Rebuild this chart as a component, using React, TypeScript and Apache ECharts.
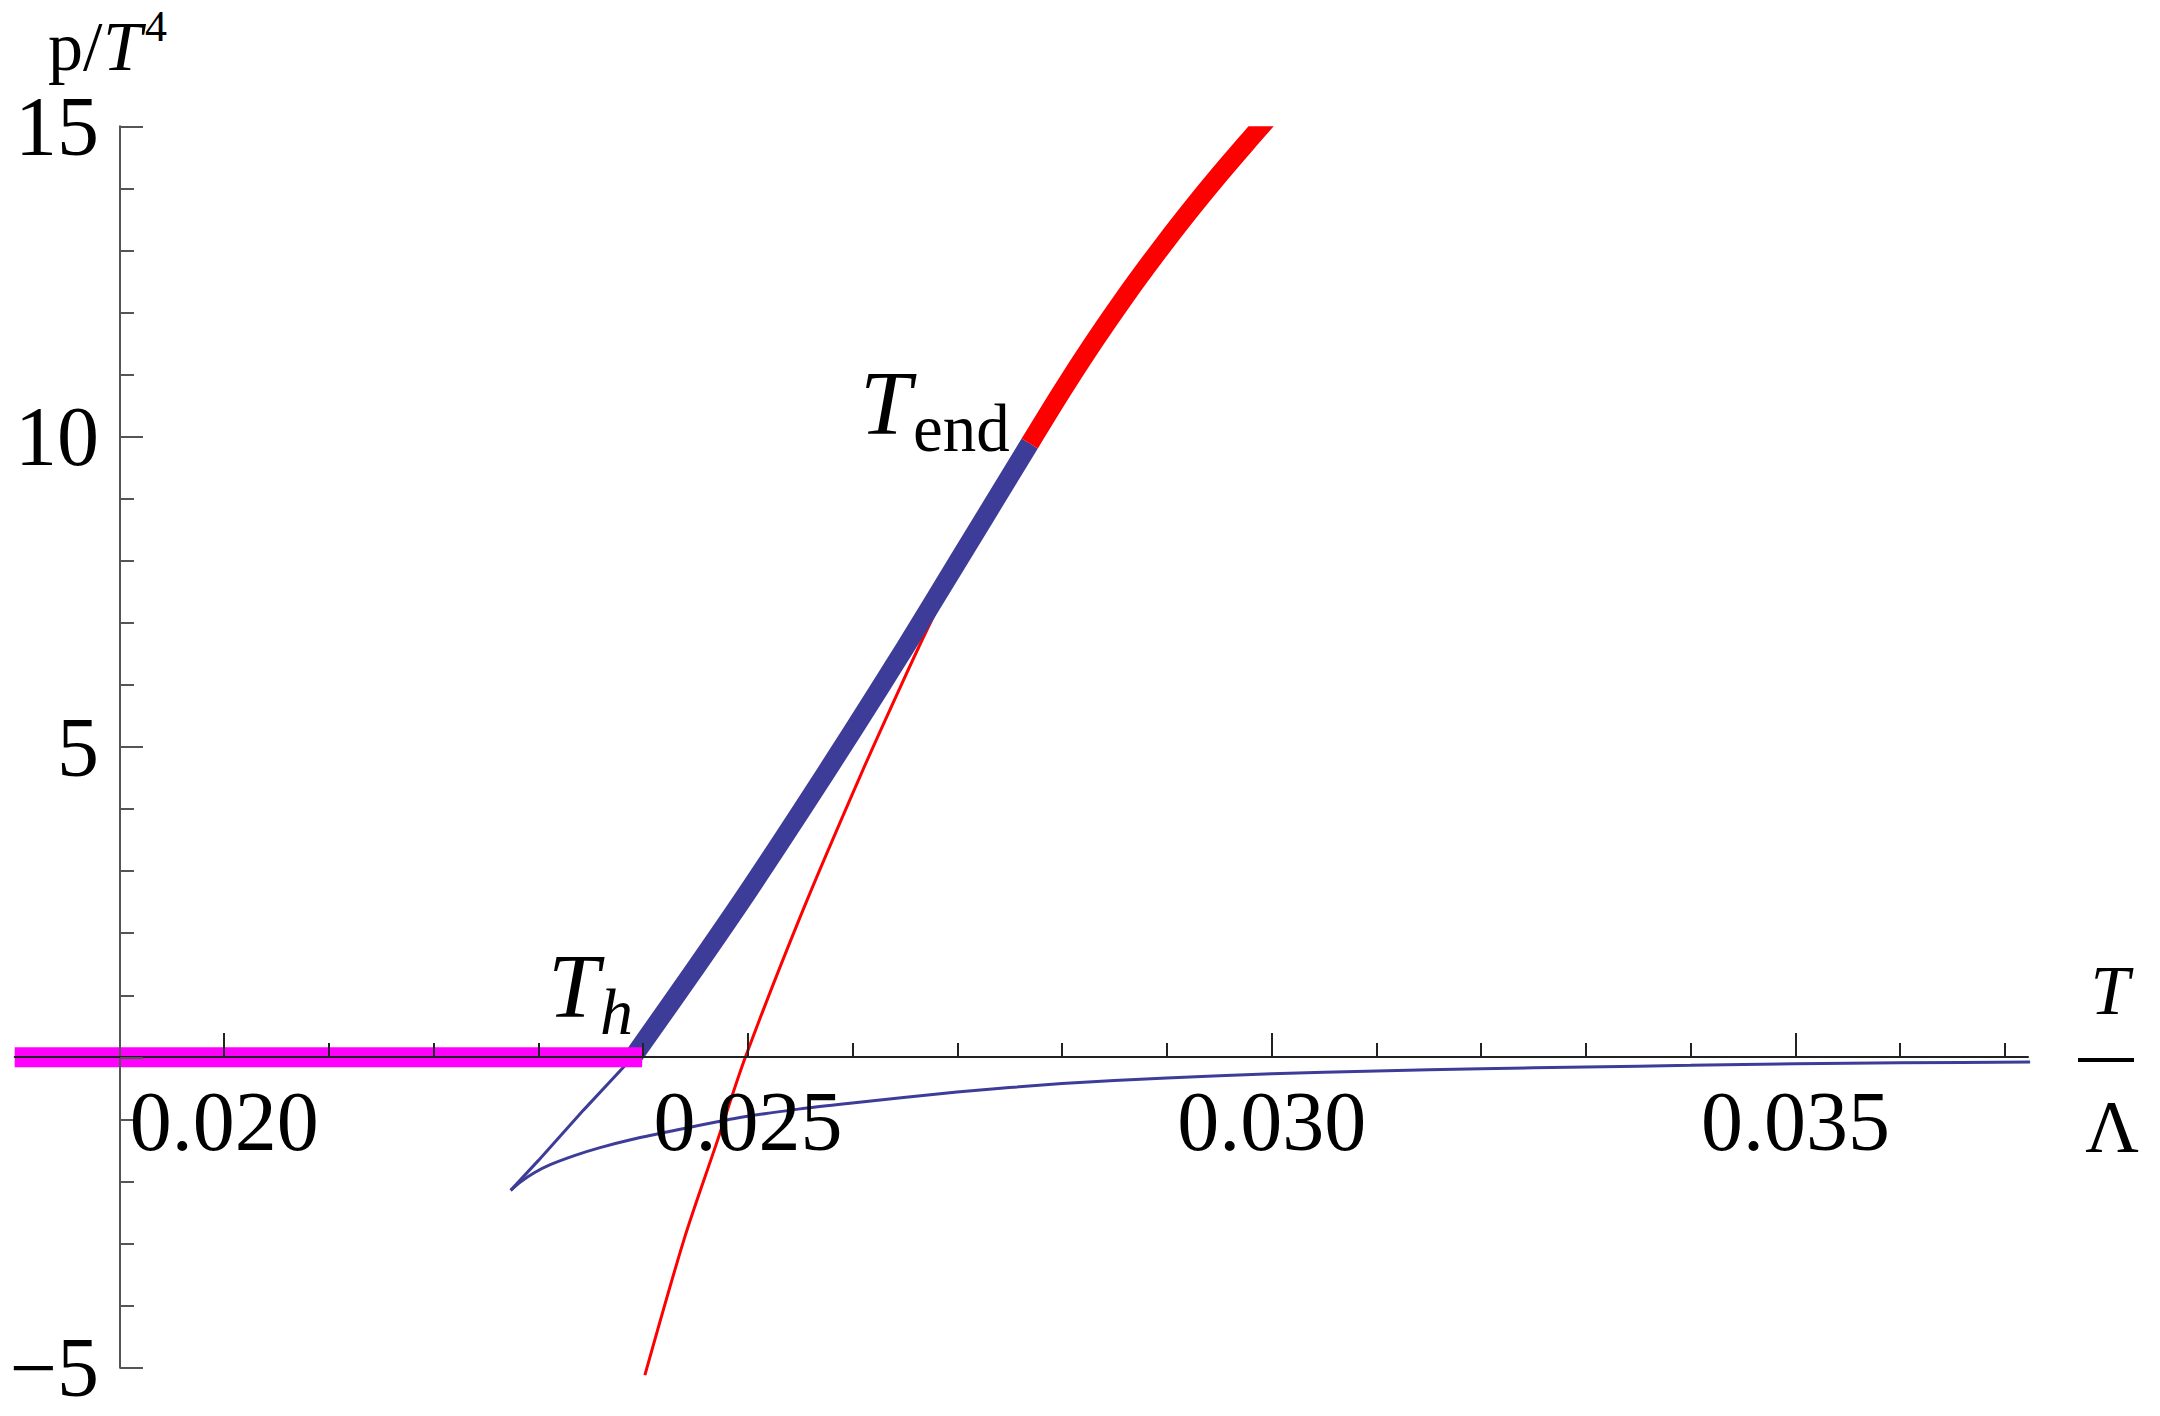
import React, { useEffect, useRef } from "react";
import * as echarts from "echarts";

// T/Λ values and p/T^4 values
const hadronT = [0.018, 0.02399];
const hadronP = [0, 0];

const blueThickT = [0.0239, 0.0245, 0.025, 0.0255, 0.026, 0.0265, 0.027, 0.02769];
const blueThickP = [0, 1.44, 2.67, 3.95, 5.26, 6.6, 7.98, 9.89];

const redThickT = [0.02769, 0.028, 0.0283, 0.0286, 0.0289, 0.0292, 0.0295, 0.0298, 0.0301];
const redThickP = [9.89, 10.74, 11.52, 12.255, 12.945, 13.6, 14.22, 14.81, 15.39];

const redThinT = [0.024016, 0.024396, 0.024699, 0.024975, 0.025527, 0.026079, 0.02645, 0.026738, 0.0271, 0.02769];
const redThinP = [-5.12, -2.9, -1.39, 0.0, 2.38, 4.56, 5.95, 6.99, 8.2, 9.89];

const blueUpperT = [0.0239, 0.02343, 0.023, 0.022735];
const blueUpperP = [0, -0.85, -1.66, -2.143];

const blueLowerT = [
  0.022735, 0.022824, 0.02296, 0.023113, 0.02335, 0.023588, 0.0239, 0.024224, 0.02486, 0.025497, 0.025974,
  0.026996, 0.027998, 0.028998, 0.03, 0.031, 0.032, 0.033, 0.034, 0.035, 0.036, 0.03724,
];
const blueLowerP = [
  -2.143, -2.014, -1.86, -1.73, -1.58, -1.455, -1.32, -1.204, -0.988, -0.83, -0.74, -0.56, -0.42, -0.333,
  -0.263, -0.22, -0.183, -0.156, -0.129, -0.102, -0.088, -0.076,
];

const xMajorTicks = [0.02, 0.025, 0.03, 0.035];
const xMinorTicks = [
  0.021, 0.022, 0.023, 0.024, 0.026, 0.027, 0.028, 0.029, 0.031, 0.032, 0.033, 0.034, 0.036, 0.037,
];
const yMajorTicks = [-5, 0, 5, 10, 15];
const yLabelValues = [-5, 5, 10, 15];
const yMinorTicks = [-4, -3, -2, -1, 1, 2, 3, 4, 6, 7, 8, 9, 11, 12, 13, 14];

const zip = (xs: number[], ys: number[]) => xs.map((x, i) => [x, ys[i]]);

const SERIF = '"Liberation Serif", "Times New Roman", serif';
const BLUE = "#3d3d99";

export default function App() {
  const ref = useRef<HTMLDivElement>(null);

  useEffect(() => {
    const chart = echarts.init(ref.current!, null, { renderer: "svg" });
    const xMin = 0.018;
    const xMax = 0.03722;
    const yMin = -5;
    const yMax = 15;
    const gLeft = 14.7;
    const gRight = 132;
    const gTop = 126.3;
    const gBottom = 48.3;
    const xOffset = -310.7;
    const yOffset = -105.3;
    const thick = 19;
    // second grid for the thick red curve: top lowered by half the line width so
    // that ECharts' widened clip rectangle cuts the line exactly at p/T^4 = 15
    const pxPerUnit = (1416 - gTop - gBottom) / (yMax - yMin);
    const yMax2 = yMax - thick / 2 / pxPerUnit;

    const hiddenAxis = {
      show: false,
      axisLine: { show: false, onZero: false },
      axisTick: { show: false },
      axisLabel: { show: false },
      splitLine: { show: false },
    };

    const option: any = {
      animation: false,
      backgroundColor: "#ffffff",
      grid: [
        { left: gLeft, right: gRight, top: gTop, bottom: gBottom, containLabel: false },
        { left: gLeft, right: gRight, top: gTop + thick / 2, bottom: gBottom, containLabel: false },
      ],
      xAxis: [
        {
          type: "value",
          gridIndex: 0,
          min: xMin,
          max: xMax,
          position: "bottom",
          offset: xOffset,
          z: 5,
          axisLine: { show: true, onZero: false, lineStyle: { color: "#222", width: 2 } },
          axisTick: { show: true, inside: true, length: 24, customValues: xMajorTicks, lineStyle: { color: "#222", width: 2 } },
          axisLabel: {
            show: true,
            customValues: xMajorTicks,
            margin: 22,
            formatter: (v: number) => v.toFixed(3),
            fontFamily: SERIF,
            fontSize: 84,
            color: "#000",
          },
          splitLine: { show: false },
        },
        {
          type: "value",
          gridIndex: 0,
          min: xMin,
          max: xMax,
          position: "bottom",
          offset: xOffset,
          z: 5,
          axisLine: { show: false, onZero: false },
          axisTick: { show: true, inside: true, length: 14, customValues: xMinorTicks, lineStyle: { color: "#222", width: 2 } },
          axisLabel: { show: false },
          splitLine: { show: false },
        },
        { type: "value", gridIndex: 1, min: xMin, max: xMax, ...hiddenAxis },
      ],
      yAxis: [
        {
          type: "value",
          gridIndex: 0,
          min: yMin,
          max: yMax,
          position: "left",
          offset: yOffset,
          z: 5,
          axisLine: { show: true, onZero: false, lineStyle: { color: "#555", width: 2 } },
          axisTick: { show: true, inside: true, length: 23, customValues: yMajorTicks, lineStyle: { color: "#555", width: 2 } },
          axisLabel: {
            show: true,
            customValues: yLabelValues,
            margin: 21,
            formatter: (v: number) => (v < 0 ? "\u2212" + Math.abs(v) : String(v)),
            fontFamily: SERIF,
            fontSize: 84,
            color: "#000",
          },
          splitLine: { show: false },
        },
        {
          type: "value",
          gridIndex: 0,
          min: yMin,
          max: yMax,
          position: "left",
          offset: yOffset,
          z: 5,
          axisLine: { show: false, onZero: false },
          axisTick: { show: true, inside: true, length: 14, customValues: yMinorTicks, lineStyle: { color: "#555", width: 2 } },
          axisLabel: { show: false },
          splitLine: { show: false },
        },
        { type: "value", gridIndex: 1, min: yMin, max: yMax2, ...hiddenAxis },
      ],
      series: [
        {
          type: "line",
          name: "blue lower",
          data: zip(blueLowerT, blueLowerP),
          showSymbol: false,
          symbol: "none",
          smooth: 0.2,
          lineStyle: { color: BLUE, width: 3 },
          z: 2,
        },
        {
          type: "line",
          name: "blue upper",
          data: zip(blueUpperT, blueUpperP),
          showSymbol: false,
          symbol: "none",
          smooth: false,
          lineStyle: { color: BLUE, width: 3 },
          z: 2,
        },
        {
          type: "line",
          name: "red thin",
          data: zip(redThinT, redThinP),
          showSymbol: false,
          symbol: "none",
          smooth: 0.3,
          clip: false,
          lineStyle: { color: "#ff0000", width: 3 },
          z: 2,
        },
        {
          type: "line",
          name: "blue thick",
          data: zip(blueThickT, blueThickP),
          showSymbol: false,
          symbol: "none",
          smooth: 0.3,
          lineStyle: { color: BLUE, width: thick, cap: "butt", join: "round" },
          z: 3,
        },
        {
          type: "line",
          name: "red thick",
          xAxisIndex: 2,
          yAxisIndex: 2,
          data: zip(redThickT, redThickP),
          showSymbol: false,
          symbol: "none",
          smooth: 0.3,
          clip: true,
          lineStyle: { color: "#ff0000", width: thick, cap: "butt", join: "round" },
          z: 3,
        },
        {
          type: "line",
          name: "hadron",
          data: zip(hadronT, hadronP),
          showSymbol: false,
          symbol: "none",
          clip: false,
          lineStyle: { color: "#ff00ff", width: 20, cap: "butt" },
          z: 4,
        },
      ],
      graphic: [
        // y-axis name p/T^4
        { type: "text", x: 48, y: 46, z: 10, style: { text: "p/", font: `70px ${SERIF}`, fill: "#000", align: "left", verticalAlign: "middle" } },
        { type: "text", x: 103, y: 46, z: 10, style: { text: "T", font: `italic 70px ${SERIF}`, fill: "#000", align: "left", verticalAlign: "middle" } },
        { type: "text", x: 145, y: 26, z: 10, style: { text: "4", font: `44px ${SERIF}`, fill: "#000", align: "left", verticalAlign: "middle" } },
        // x-axis name T / Λ
        { type: "text", x: 2110, y: 990, z: 10, style: { text: "T", font: `italic 70px ${SERIF}`, fill: "#000", align: "center", verticalAlign: "middle" } },
        { type: "rect", z: 10, shape: { x: 2078, y: 1058, width: 56, height: 4 }, style: { fill: "#000" } },
        { type: "text", x: 2112, y: 1127, z: 10, style: { text: "\u039B", font: `74px ${SERIF}`, fill: "#000", align: "center", verticalAlign: "middle" } },
        // T_h
        { type: "text", x: 548, y: 986, z: 10, style: { text: "T", font: `italic 92px ${SERIF}`, fill: "#000", align: "left", verticalAlign: "middle" } },
        { type: "text", x: 600, y: 1011, z: 10, style: { text: "h", font: `italic 66px ${SERIF}`, fill: "#000", align: "left", verticalAlign: "middle" } },
        // T_end
        { type: "text", x: 860, y: 403, z: 10, style: { text: "T", font: `italic 92px ${SERIF}`, fill: "#000", align: "left", verticalAlign: "middle" } },
        { type: "text", x: 913, y: 428, z: 10, style: { text: "end", font: `67px ${SERIF}`, fill: "#000", align: "left", verticalAlign: "middle" } },
      ],
    };

    chart.setOption(option);
    return () => chart.dispose();
  }, []);

  return (
    <div
      ref={ref}
      style={{ position: "absolute", left: 0, top: 0, width: 2160, height: 1416, background: "#fff" }}
    />
  );
}
